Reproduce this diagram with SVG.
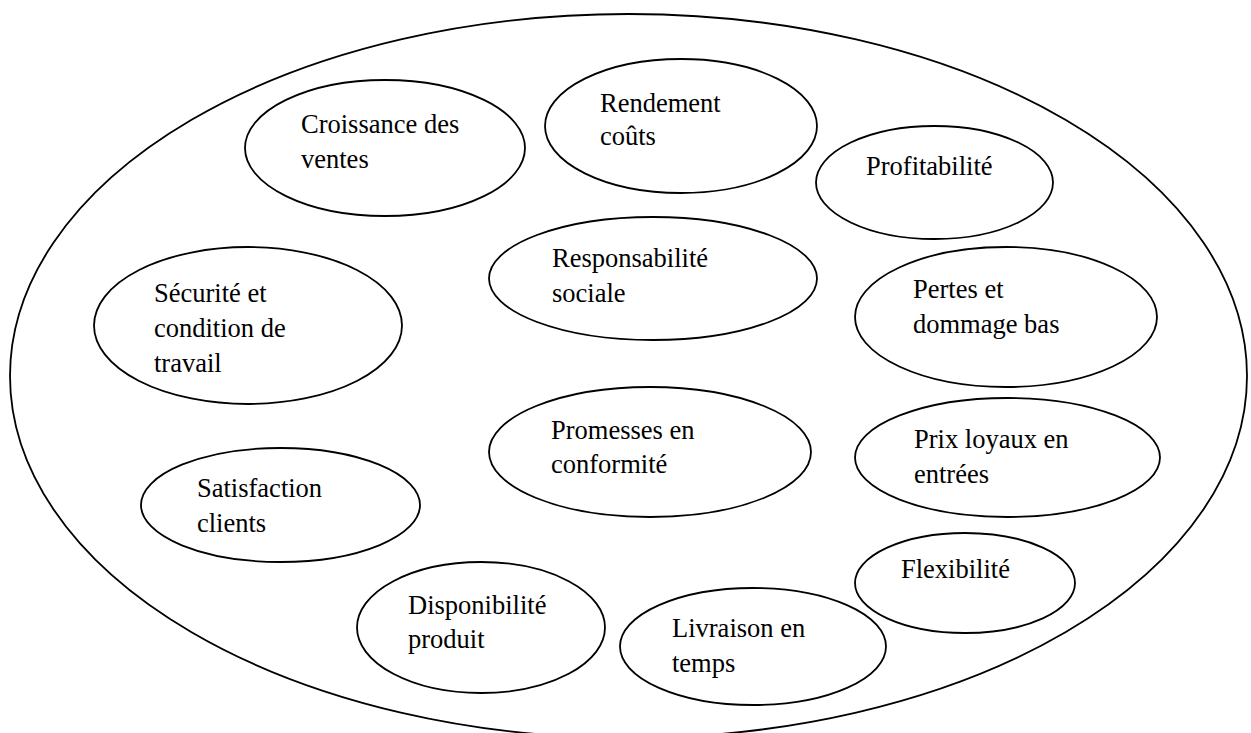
<svg xmlns="http://www.w3.org/2000/svg" width="1251" height="733" viewBox="0 0 1251 733">
<style>
.e{fill:none;stroke:#000;stroke-width:1.8}
.t{font-family:"Liberation Serif","Times New Roman",serif;font-size:26.5px;fill:#000}
</style>
<rect width="1251" height="733" fill="#fff"/>
<g id="outer"><ellipse class="e" cx="628.5" cy="376" rx="618.5" ry="362" stroke-width="2"/></g>
<g id="croissance"><ellipse class="e" cx="385" cy="148" rx="140" ry="68"/><text class="t" x="301" y="133">Croissance des</text><text class="t" x="301" y="168">ventes</text></g>
<g id="rendement"><ellipse class="e" cx="681" cy="126" rx="136" ry="67"/><text class="t" x="600" y="112">Rendement</text><text class="t" x="600" y="145">coûts</text></g>
<g id="profitabilite"><ellipse class="e" cx="934.5" cy="182.5" rx="118.5" ry="56.5"/><text class="t" x="866" y="175">Profitabilité</text></g>
<g id="responsabilite"><ellipse class="e" cx="653" cy="278.5" rx="164" ry="61.5"/><text class="t" x="552" y="267">Responsabilité</text><text class="t" x="552" y="302">sociale</text></g>
<g id="pertes"><ellipse class="e" cx="1006" cy="317" rx="151" ry="70"/><text class="t" x="913" y="298">Pertes et</text><text class="t" x="913" y="333">dommage bas</text></g>
<g id="securite"><ellipse class="e" cx="248" cy="325.5" rx="154" ry="78.5"/><text class="t" x="154" y="302">Sécurité et</text><text class="t" x="154" y="337">condition de</text><text class="t" x="154" y="372">travail</text></g>
<g id="promesses"><ellipse class="e" cx="650" cy="452" rx="161" ry="65"/><text class="t" x="551" y="439">Promesses en</text><text class="t" x="551" y="473">conformité</text></g>
<g id="prix"><ellipse class="e" cx="1007.5" cy="457.5" rx="152.5" ry="59.5"/><text class="t" x="914" y="448">Prix loyaux en</text><text class="t" x="914" y="483">entrées</text></g>
<g id="satisfaction"><ellipse class="e" cx="280.5" cy="505" rx="139.5" ry="57"/><text class="t" x="197" y="497">Satisfaction</text><text class="t" x="197" y="532">clients</text></g>
<g id="disponibilite"><ellipse class="e" cx="481" cy="627.5" rx="124" ry="65.5"/><text class="t" x="408" y="614">Disponibilité</text><text class="t" x="408" y="648">produit</text></g>
<g id="flexibilite"><ellipse class="e" cx="965" cy="583" rx="110" ry="50"/><text class="t" x="901" y="578">Flexibilité</text></g>
<g id="livraison"><ellipse class="e" cx="753" cy="646.5" rx="133" ry="58.5"/><text class="t" x="672" y="637">Livraison en</text><text class="t" x="672" y="672">temps</text></g>
<g id="connectors"></g>
</svg>
